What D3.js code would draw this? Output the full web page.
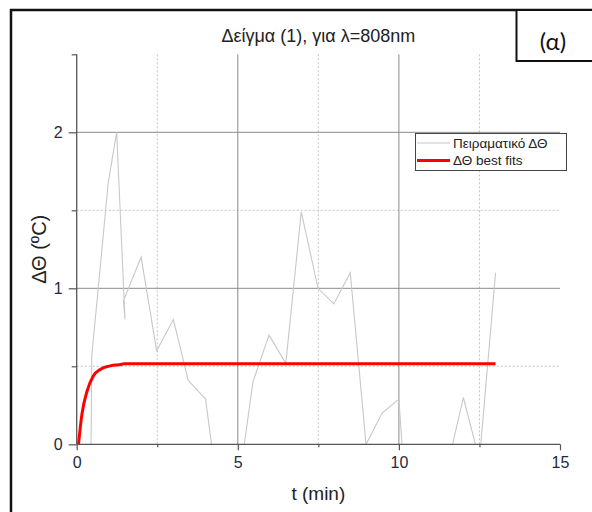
<!DOCTYPE html>
<html><head><meta charset="utf-8">
<script src="https://cdn.jsdelivr.net/npm/d3@7"></script>
<style>html,body{margin:0;padding:0;background:#fff;}svg{display:block;}</style>
</head><body>
<script>
// ---- data ----
const titleText = "Δείγμα (1), για λ=808nm";
const panelLabel = "(α)";
const xLabel = "t (min)";
const yLabel = "ΔΘ (ºC)";
const xMajorTicks = [0, 5, 10, 15];
const xMinorTicks = [2.5, 7.5, 12.5];
const yMajorTicks = [0, 1, 2];
const yMinorTicks = [0.5, 1.5, 2.5];
const seriesNames = ["Πειραματικό ΔΘ", "ΔΘ best fits"];

// experimental ΔΘ (values below 0 are clipped by the axes, as in the reference)
const expT = [0, 0.47, 0.98, 1.24, 1.5, 1.45, 2.0, 2.48, 3.0, 3.46, 4.0, 4.5, 5.0, 5.47, 5.97, 6.49, 6.97, 7.49, 7.98, 8.49, 8.98, 9.48, 10.0, 10.5, 11.0, 11.5, 12.0, 12.5, 13.0];
const expV = [-10, 0.57, 1.68, 2.0, 0.8, 0.92, 1.2, 0.6, 0.8, 0.41, 0.29, -0.5, -0.3, 0.4, 0.7, 0.52, 1.49, 1.0, 0.9, 1.1, 0.0, 0.2, 0.29, -1.2, -0.8, -0.15, 0.3, -0.1, 1.1];

// best fit curve points
const fitT = [0.056, 0.16, 0.32, 0.52, 0.73, 1.04, 1.40, 1.45, 13.0];
const fitV = [0.0, 0.19, 0.34, 0.44, 0.48, 0.503, 0.513, 0.516, 0.516];

// ---- drawing ----
const W = 592, H = 512;
const svg = d3.select("body").append("svg").attr("width", W).attr("height", H)
  .style("font-family", "'Liberation Sans', Arial, sans-serif");

const x = d3.scaleLinear().domain([0, 15]).range([76.7, 560]);
const y = d3.scaleLinear().domain([0, 2.5]).range([444.3, 54.3]);

// outer frame
svg.append("line").attr("x1", 11).attr("x2", 11).attr("y1", 9).attr("y2", H).attr("stroke", "#111").attr("stroke-width", 2.5);
svg.append("line").attr("x1", 10).attr("x2", W).attr("y1", 10).attr("y2", 10).attr("stroke", "#111").attr("stroke-width", 2.5);
svg.append("rect").attr("x", 516.5).attr("y", 10).attr("width", 100).attr("height", 51)
  .attr("fill", "#fff").attr("stroke", "#111").attr("stroke-width", 2);
svg.append("text").attr("x", 553).attr("y", 50).attr("text-anchor", "middle")
  .style("font-family", "Lato, 'Open Sans', sans-serif").style("font-size", "24px").attr("fill", "#111").text(panelLabel);

// grid
const g = svg.append("g");
g.selectAll(".gmx").data(xMinorTicks).join("line")
  .attr("x1", d => x(d)).attr("x2", d => x(d)).attr("y1", y(2.5)).attr("y2", y(0))
  .attr("stroke", "#c4c4c4").attr("stroke-dasharray", "2,2").attr("stroke-width", 1);
g.selectAll(".gmy").data(yMinorTicks.filter(d => d < 2.5)).join("line")
  .attr("x1", x(0)).attr("x2", x(15)).attr("y1", d => y(d)).attr("y2", d => y(d))
  .attr("stroke", "#c4c4c4").attr("stroke-dasharray", "2,2").attr("stroke-width", 1);
g.selectAll(".gMx").data(xMajorTicks.filter(d => d > 0 && d < 15)).join("line")
  .attr("x1", d => x(d)).attr("x2", d => x(d)).attr("y1", y(2.5)).attr("y2", y(0))
  .attr("stroke", "#8a8a8a").attr("stroke-width", 1);
g.selectAll(".gMy").data(yMajorTicks.filter(d => d > 0)).join("line")
  .attr("x1", x(0)).attr("x2", x(15)).attr("y1", d => y(d)).attr("y2", d => y(d))
  .attr("stroke", "#8a8a8a").attr("stroke-width", 1);

// clip
svg.append("defs").append("clipPath").attr("id", "clip").append("rect")
  .attr("x", x(0)).attr("y", y(2.5)).attr("width", x(15) - x(0)).attr("height", y(0) - y(2.5));

const expData = expT.map((t, i) => [t, expV[i]]);
const fitData = fitT.map((t, i) => [t, fitV[i]]);

svg.append("path").datum(expData).attr("clip-path", "url(#clip)")
  .attr("d", d3.line().x(d => x(d[0])).y(d => y(d[1])))
  .attr("fill", "none").attr("stroke", "#c8c8c8").attr("stroke-width", 1.1);

svg.append("path").datum(fitData).attr("clip-path", "url(#clip)")
  .attr("d", d3.line().curve(d3.curveMonotoneX).x(d => x(d[0])).y(d => y(d[1])))
  .attr("fill", "none").attr("stroke", "#ff0000").attr("stroke-width", 3);

// axes
const axisColor = "#555";
const labColor = "#1e2b3a";
const xAxisG = svg.append("g").attr("transform", `translate(0,${y(0)})`)
  .call(d3.axisBottom(x).tickValues(xMajorTicks).tickSize(6).tickPadding(6).tickFormat(d3.format("d")));
svg.append("g").attr("transform", `translate(0,${y(0)})`)
  .call(d3.axisBottom(x).tickValues(xMinorTicks).tickSize(3).tickFormat(""))
  .call(s => s.select(".domain").remove());
const yAxisG = svg.append("g").attr("transform", `translate(${x(0)},0)`)
  .call(d3.axisLeft(y).tickValues(yMajorTicks).tickSize(8).tickPadding(6).tickFormat(d3.format("d")));
svg.append("g").attr("transform", `translate(${x(0)},0)`)
  .call(d3.axisLeft(y).tickValues(yMinorTicks).tickSize(5).tickFormat(""))
  .call(s => s.select(".domain").remove());

svg.selectAll(".domain").attr("stroke", axisColor).attr("stroke-width", 1.3);
svg.selectAll(".tick line").attr("stroke", axisColor).attr("stroke-width", 1.2);
svg.selectAll(".tick text").attr("fill", labColor).style("font-size", "16px")
  .style("font-family", "'Liberation Sans', Arial, sans-serif");
xAxisG.select(".domain").attr("d", `M${x(0)},0H${x(15)}`);
yAxisG.select(".domain").attr("d", `M0,${y(0)}V${y(2.5)}`);

// labels
svg.append("text").attr("x", (x(0) + x(15)) / 2).attr("y", 42).attr("text-anchor", "middle")
  .style("font-size", "18px").attr("fill", "#222").text(titleText);
svg.append("text").attr("x", (x(0) + x(15)) / 2).attr("y", 500).attr("text-anchor", "middle")
  .style("font-size", "19px").attr("fill", "#222").text(xLabel);
svg.append("text").attr("transform", `translate(46,${(y(0) + y(2.5)) / 2}) rotate(-90)`).attr("text-anchor", "middle")
  .style("font-size", "20px").attr("fill", "#222").text(yLabel);

// legend
const lg = svg.append("g");
lg.append("rect").attr("x", 415.5).attr("y", 133.5).attr("width", 151).attr("height", 37)
  .attr("fill", "#fff").attr("stroke", "#444").attr("stroke-width", 1);
const legColors = ["#c8c8c8", "#ff0000"];
const legWidths = [1.1, 3];
const legY = [143, 160.5];
lg.selectAll(".ll").data(seriesNames).join("line")
  .attr("x1", 417).attr("x2", 450).attr("y1", (d, i) => legY[i]).attr("y2", (d, i) => legY[i])
  .attr("stroke", (d, i) => legColors[i]).attr("stroke-width", (d, i) => legWidths[i]);
lg.selectAll(".lt").data(seriesNames).join("text")
  .attr("x", 453).attr("y", (d, i) => legY[i] + 4.5)
  .style("font-size", "13.5px").attr("fill", "#222").text(d => d);
</script>
</body></html>
